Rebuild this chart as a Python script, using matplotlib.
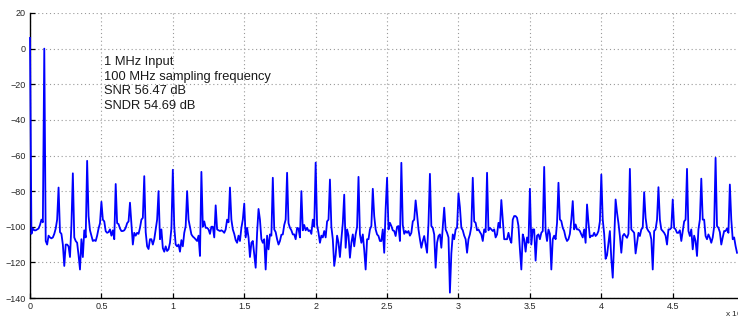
import numpy as np
import matplotlib
matplotlib.use("Agg")
import matplotlib.pyplot as plt

plt.rcParams['font.family'] = ['Liberation Sans', 'DejaVu Sans']

# FFT magnitude in dB, one row per 0.1 (x 10^7 Hz) span, 0.01 bin step
mag_db = [
    6, -104, -101, -102, -102, -101.5, -101, -99, -96, -97.5,
    0, -108, -110, -105, -106, -106.5, -106, -104, -101, -96,
    -78, -103, -104, -110, -122, -110, -110, -111, -117, -99,
    -70, -106, -108, -109, -116, -124, -107, -117, -102, -106,
    -63, -94, -102, -105, -108, -107.5, -108, -105, -101, -98,
    -86, -96, -97, -102.5, -103.4, -103, -101.5, -105, -102, -107,
    -76, -98, -98.5, -101, -102.4, -102.4, -102, -100.6, -98, -97,
    -86.5, -98, -110, -103.4, -105, -103.4, -104, -100.6, -96, -95,
    -71.6, -103, -111, -112.5, -107, -107, -110, -107, -101.5, -96,
    -80, -107, -101.5, -112, -114, -111, -113.6, -112.7, -109, -101,
    -68, -100, -110, -111, -110, -114, -107.5, -111, -103.4, -99.6,
    -80, -96, -100, -104.3, -105.5, -106.2, -107.1, -108, -105, -116.4,
    -69.2, -100, -97, -100.6, -100.6, -101.5, -104, -100, -100, -106,
    -88, -101.5, -102, -102.4, -102, -102.5, -103.4, -101.5, -96, -97.5,
    -78, -96, -101.5, -104, -107.5, -109, -105, -108, -100.6, -96,
    -87, -106, -100.6, -106, -117, -109, -108, -115.5, -123, -103.4,
    -90, -96, -107, -109, -107, -124, -105, -112.7, -104.3, -105,
    -72.5, -101.5, -103, -107, -110, -108, -104.5, -104.3, -99, -96,
    -69.7, -98, -100.6, -102, -104.3, -104.3, -107, -100.6, -101, -106,
    -80, -102, -99, -102, -100.6, -102.4, -102, -104, -96, -100,
    -64, -99, -103.4, -109, -105, -106, -102.4, -106, -97, -96,
    -73.5, -100, -107, -122, -116, -105, -109, -117, -107, -98,
    -82, -111.8, -101.5, -105, -117.4, -109, -104.3, -111, -104.3, -100,
    -72, -104.3, -109, -104.3, -113, -124, -107, -107, -101.5, -99.6,
    -78.7, -94, -101.5, -104.3, -105.2, -108, -108, -101.5, -114.6, -90,
    -72.5, -101.5, -97.8, -99.6, -102, -102.4, -105.2, -100, -99.6, -108,
    -64.1, -99, -104, -102.4, -103.4, -102.4, -105, -103.4, -97, -96,
    -85.2, -93, -101.5, -107, -111.8, -108, -105.2, -110, -114.6, -98,
    -70.3, -99.6, -100.6, -104.3, -123, -109, -105.2, -104.3, -111.8, -100,
    -89.3, -101.5, -103.4, -106, -137, -115, -104.3, -107, -101.5, -100.6,
    -81.3, -89, -100.6, -102, -105, -107, -114.6, -107, -104.3, -100,
    -72.5, -97, -97.8, -102, -101.5, -103, -104.3, -108, -101.5, -103,
    -69.7, -102, -100.6, -101.5, -102.4, -101.5, -106, -104.3, -97.8, -100.6,
    -85, -96, -107, -107, -107, -103.4, -107, -109, -96, -94,
    -94, -95, -99.6, -112.7, -124, -104.3, -107, -114, -106, -109,
    -78.7, -110, -101.5, -101.5, -119, -105, -104.3, -107, -103.4, -102.4,
    -66.4, -102.4, -108, -101.5, -104, -124, -107, -105, -107, -97.8,
    -75.3, -95.9, -96.8, -100.6, -102.4, -106, -108, -107, -104, -96,
    -85.6, -101.5, -98.7, -101.5, -101.5, -102.4, -104.3, -106, -101.5, -109,
    -87.5, -97.8, -106, -105, -105.2, -103.4, -105.2, -104.3, -102.4, -97,
    -70.7, -96, -104, -118, -116, -109, -102.4, -118, -128.6, -108,
    -84.7, -92, -98, -105.2, -114.6, -105.2, -104, -105.2, -106.2, -104,
    -67.5, -101.5, -102.4, -103.4, -115, -109, -103.4, -105.2, -101.5, -100.6,
    -80.6, -95, -101, -102.4, -103.4, -107, -124, -102.4, -101.5, -96,
    -77.8, -96, -101.5, -102.4, -103.4, -105, -110, -101.5, -101.5, -100.6,
    -84.7, -100.6, -101.5, -103.4, -103.4, -102, -108, -102.4, -97, -96,
    -67.5, -102.4, -105.2, -101.5, -112.7, -105, -108, -116.4, -101.5, -96,
    -73, -96, -96, -105.2, -107, -104.3, -106.2, -109, -106, -100,
    -61.3, -99.6, -100.6, -103, -110, -106, -102.4, -102.4, -101, -103.4,
    -76.3, -96, -107, -106, -110.8, -114.6,
]
bin_step = 0.01

x_ticks = [0, 0.5, 1, 1.5, 2, 2.5, 3, 3.5, 4, 4.5]
x_labels = ["0", "0.5", "1", "1.5", "2", "2.5", "3", "3.5", "4", "4.5"]
y_ticks = [20, 0, -20, -40, -60, -80, -100, -120, -140]

notes = ["1 MHz Input", "100 MHz sampling frequency", "SNR 56.47 dB", "SNDR 54.69 dB"]

freq = np.arange(len(mag_db)) * bin_step

fig = plt.figure(figsize=(7.38, 3.2), dpi=100)
ax = fig.add_axes([30 / 738, 22 / 320, 707 / 738, 285 / 320])

# drawn above the spine so the DC bin shows on the left edge
ax.plot(freq, mag_db, color=(0, 0, 1), lw=1.3, zorder=3, clip_on=False)

ax.set_xlim(0, freq[-1])
ax.set_ylim(-140, 20)
ax.set_xticks(x_ticks)
ax.set_xticklabels(x_labels)
ax.set_yticks(y_ticks)
ax.set_yticklabels([str(t).replace("-", "\u2212") for t in y_ticks])

ax.grid(True, linestyle=(0, (1, 2.5)), color="0.6", linewidth=0.8)
ax.spines["top"].set_visible(False)
ax.spines["right"].set_visible(False)
ax.spines["left"].set_linewidth(1.0)
ax.spines["bottom"].set_linewidth(1.0)
ax.tick_params(direction="in", length=3.6, width=0.9, labelsize=6.5,
               labelcolor="0.15", pad=3)

ax.text(0.52, -4.2, "\n".join(notes), fontsize=9.3, va="top", ha="left",
        linespacing=1.28, color="0.1")

# exponent label sits at the bottom-right corner, partly past the edge as in the source
fig.text(725 / 738, 1 / 320, "x 10$^7$", fontsize=6, color="0.15",
         ha="left", va="bottom")

fig.savefig("out.png", dpi=100)
